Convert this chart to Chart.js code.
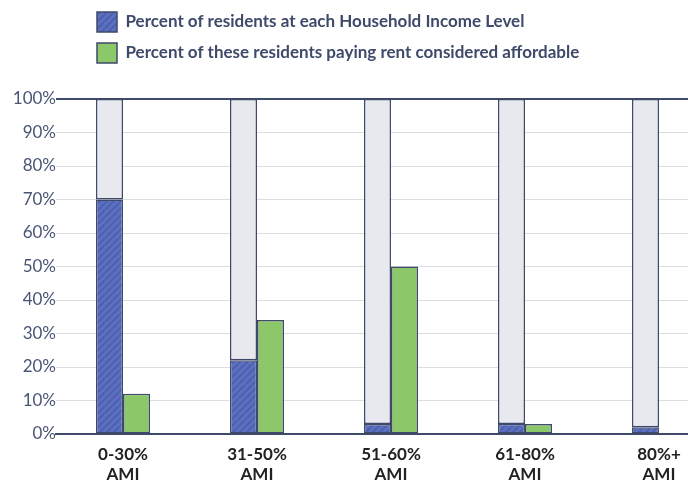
<!DOCTYPE html>
<html>
<head>
<meta charset="utf-8">
<script src="https://cdn.jsdelivr.net/npm/chart.js@4.4.1/dist/chart.umd.min.js"></script>
<style>
  html, body { margin: 0; padding: 0; background: #ffffff; overflow: hidden; }
  #wrap { width: 726px; height: 482px; }
</style>
</head>
<body>
<div id="wrap"><canvas id="chart" width="726" height="482"></canvas></div>
<script>
// Income bands (Area Median Income)
const categories = [["0-30%", "AMI"], ["31-50%", "AMI"], ["51-60%", "AMI"], ["61-80%", "AMI"], ["80%+", "AMI"]];
// Share of residents in each income band (%)
const residentsShare = [70, 22, 3, 3, 2];
// Share of those residents paying rent considered affordable (%)
const affordableShare = [12, 34, 50, 3, 0];
// Remainder of the 100% column above each band's share
const remainderShare = residentsShare.map(v => 100 - v);
const yTickValues = [0, 10, 20, 30, 40, 50, 60, 70, 80, 90, 100];

const legendLabels = [
  "Percent of residents at each Household Income Level",
  "Percent of these residents paying rent considered affordable"
];

const INK = "#3f4a6a";
const FONT = "Lato";

// Diagonal hatch for the residents bars
function makeHatch() {
  const size = 7;
  const c = document.createElement("canvas");
  c.width = size; c.height = size;
  const g = c.getContext("2d");
  g.fillStyle = "#5c70c2";
  g.fillRect(0, 0, size, size);
  g.strokeStyle = "#4d60ad";
  g.lineWidth = 2;
  g.beginPath();
  for (let k = -1; k <= 1; k++) {
    g.moveTo(k * size, size);
    g.lineTo(k * size + size, 0);
  }
  g.stroke();
  return g.createPattern(c, "repeat");
}
const hatch = makeHatch();

// Legend placement and spacing below it
const legendTweaks = {
  id: "legendTweaks",
  beforeInit(chart) {
    const fit = chart.legend.fit;
    chart.legend.fit = function () {
      fit.call(this);
      this.height += 26;
    };
  },
  afterLayout(chart) {
    chart.legend.left = 86;
  }
};

new Chart(document.getElementById("chart"), {
  type: "bar",
  data: {
    labels: categories,
    datasets: [
      {
        label: legendLabels[0],
        data: residentsShare,
        stack: "residents",
        backgroundColor: hatch,
        borderColor: INK,
        borderWidth: 1.5,
        borderSkipped: false
      },
      {
        label: "rest",
        data: remainderShare,
        stack: "residents",
        backgroundColor: "#e8e9ef",
        borderColor: INK,
        borderWidth: 1.5,
        borderSkipped: false
      },
      {
        label: legendLabels[1],
        data: affordableShare,
        stack: "affordable",
        backgroundColor: "#8cc86a",
        borderColor: INK,
        borderWidth: 1.5,
        borderSkipped: false
      }
    ]
  },
  options: {
    responsive: false,
    animation: false,
    devicePixelRatio: 1,
    layout: { padding: { top: 1, left: 0, right: 0, bottom: 0 } },
    datasets: { bar: { categoryPercentage: 0.403, barPercentage: 1.0 } },
    plugins: {
      tooltip: { enabled: false },
      legend: {
        position: "top",
        align: "start",
        labels: {
          filter: item => item.datasetIndex !== 1,
          boxWidth: 20,
          boxHeight: 20,
          padding: 11,
          color: INK,
          font: { family: FONT, size: 17, weight: "bold" }
        }
      }
    },
    scales: {
      x: {
        stacked: true,
        grid: { display: false, drawTicks: false },
        border: { display: true, color: INK, width: 2 },
        ticks: {
          color: "#222222",
          padding: 10,
          maxRotation: 0,
          autoSkip: false,
          font: { family: FONT, size: 17, weight: "bold", lineHeight: 1.2 }
        },
        afterFit(scale) { scale.height = 48; }
      },
      y: {
        stacked: true,
        min: 0,
        max: 100,
        afterBuildTicks(scale) { scale.ticks = yTickValues.map(v => ({ value: v })); },
        grid: {
          drawTicks: false,
          color: ctx => (ctx.tick && ctx.tick.value === 100 ? INK : "#dcdde3"),
          lineWidth: ctx => (ctx.tick && ctx.tick.value === 100 ? 2 : 1)
        },
        border: { display: false },
        ticks: {
          color: "#4a5575",
          padding: 0,
          font: { family: FONT, size: 17 },
          callback: v => v + "%"
        },
        afterFit(scale) { scale.width = 56; }
      }
    }
  },
  plugins: [legendTweaks]
});
</script>
</body>
</html>
